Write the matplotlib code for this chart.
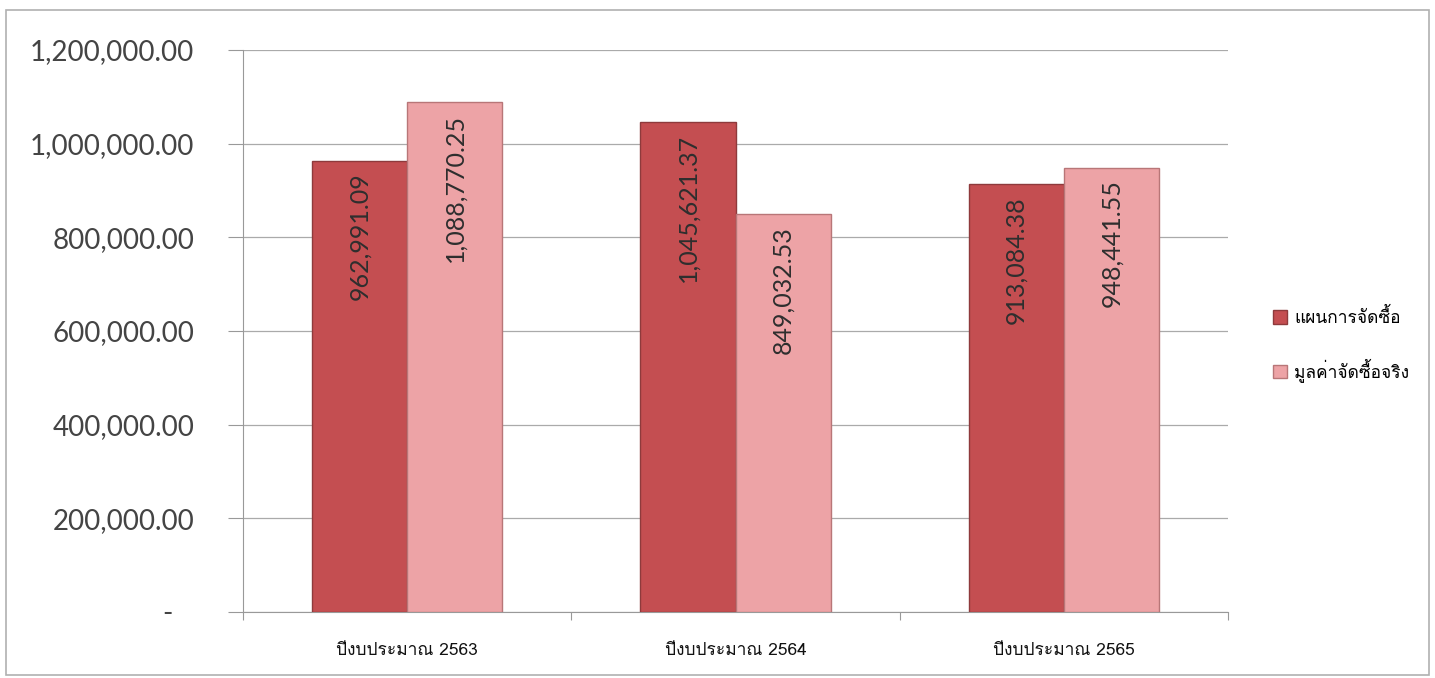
import matplotlib
matplotlib.use("Agg")
import matplotlib.pyplot as plt
from matplotlib import font_manager
from matplotlib.ft2font import FT2Font
from matplotlib.patches import Rectangle

# data
categories = ["ปีงบประมาณ 2563", "ปีงบประมาณ 2564", "ปีงบประมาณ 2565"]
series_names = ["แผนการจัดซื้อ", "มูลค่าจัดซื้อจริง"]
plan = [962991.09, 1045621.37, 913084.38]
actual = [1088770.25, 849032.53, 948441.55]
yticks = [0, 200000, 400000, 600000, 800000, 1000000, 1200000]

# find a font that has thai glyphs
thai_font = None
for f in font_manager.fontManager.ttflist:
    try:
        if 0x0E01 in FT2Font(f.fname).get_charmap():
            thai_font = f.name
            break
    except Exception:
        pass
fams = ["DejaVu Sans"] if thai_font is None else [thai_font, "DejaVu Sans"]
plt.rcParams['font.family'] = fams

fig = plt.figure(figsize=(14.35, 6.78), dpi=100)
fig.patches.append(Rectangle((0.004, 0.004), 0.992, 0.981, transform=fig.transFigure,
                             fill=False, edgecolor="#b0b0b0", linewidth=1.2))
ax = fig.add_axes([243/1435, 1 - 612/678, 985/1435, 562/678])

x = range(len(categories))
w = 0.29
c1 = "#c44e51"
c2 = "#eda3a6"
b1 = ax.bar([i - w/2 for i in x], plan, w, color=c1, edgecolor="#8e3a3c", linewidth=1, zorder=3, label=series_names[0])
b2 = ax.bar([i + w/2 for i in x], actual, w, color=c2, edgecolor="#b87678", linewidth=1, zorder=3, label=series_names[1])

for bars, vals in [(b1, plan), (b2, actual)]:
    for b, v in zip(bars, vals):
        ax.text(b.get_x() + b.get_width()/2, v - 25000, f"{v:,.2f}", rotation=90,
                ha="center", va="top", fontsize=18, color="#2e2e2e",
                family=["Lato", "DejaVu Sans"], zorder=4)

ax.set_xlim(-0.5, 2.5)
ax.set_ylim(0, 1200000)
ax.set_yticks(yticks)
ax.set_yticklabels(["-   "] + [f"{v:,.2f}" for v in yticks[1:]], fontsize=20, color="#444444",
                   family=["Lato", "DejaVu Sans"])
ax.tick_params(axis="y", length=11, color="#999999", pad=24)
ax.grid(axis="y", color="#aaaaaa", linewidth=0.9, zorder=0)

ax.set_xticks([-0.5, 0.5, 1.5, 2.5])
ax.set_xticklabels([])
ax.tick_params(axis="x", length=6, color="#999999")
for i, c in enumerate(categories):
    ax.text(i, -0.055, c, transform=ax.get_xaxis_transform(), ha="center", va="top",
            fontsize=12.5, color="#111111")

for s in ["top", "right"]:
    ax.spines[s].set_visible(False)
ax.spines["left"].set_color("#999999")
ax.spines["bottom"].set_color("#999999")

ax.legend(loc="center left", bbox_to_anchor=(1.03, 0.475), frameon=False, fontsize=12.5,
          handlelength=0.8, handleheight=0.8, labelspacing=1.8, handletextpad=0.4)

fig.savefig("out.png", dpi=100)
